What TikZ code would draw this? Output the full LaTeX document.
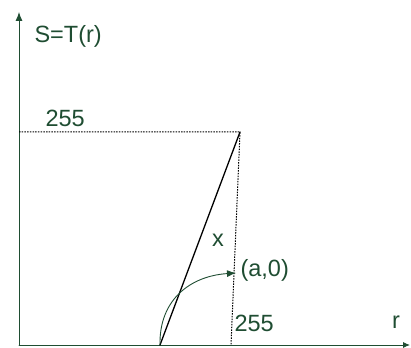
\documentclass[tikz,border=0pt]{standalone}
\usepackage{fontspec}
\setmainfont{Liberation Sans}
\usetikzlibrary{arrows.meta}
\definecolor{axgreen}{RGB}{31,77,50}
\begin{document}
\begin{tikzpicture}[x=1pt,y=-1pt,line cap=round,font=\fontsize{23.5}{25}\selectfont]
  \useasboundingbox (0,0) rectangle (411,347);
  \coordinate (O) at (19,345); \coordinate (Y) at (19,12); \coordinate (X) at (410,345); \coordinate (H) at (19,132); \coordinate (P) at (240,132); \coordinate (F) at (160,345); \coordinate (B) at (231,345); \coordinate (A) at (236,273);
  \draw[axgreen,line width=.9pt,-{Latex[length=9pt,width=7pt]}] (O)--(Y);
  \draw[axgreen,line width=.9pt,-{Latex[length=7pt,width=6pt]}] (O)--(X);
  \draw[line width=1pt,line cap=butt,dash pattern=on 1.5pt off 1.2pt] (H)--(P)--(B);
  \draw[line width=1.3pt] (F)--(P);
  \draw[axgreen,line width=.9pt,-{Latex[length=9pt,width=7pt]}] (F) .. controls (159,300) and (190,276) .. (A);
  \node[axgreen,anchor=west] (st) at (31,36) {S=T(r)}; \node[axgreen,anchor=west] (l1) at (42,118) {255}; \node[axgreen] (xl) at (218,240) {x}; \node[axgreen,anchor=west] (al) at (237,270) {(a,0)}; \node[axgreen,anchor=west] (l2) at (231,323) {255}; \node[axgreen] (rl) at (396,322) {r};
\end{tikzpicture}
\end{document}
